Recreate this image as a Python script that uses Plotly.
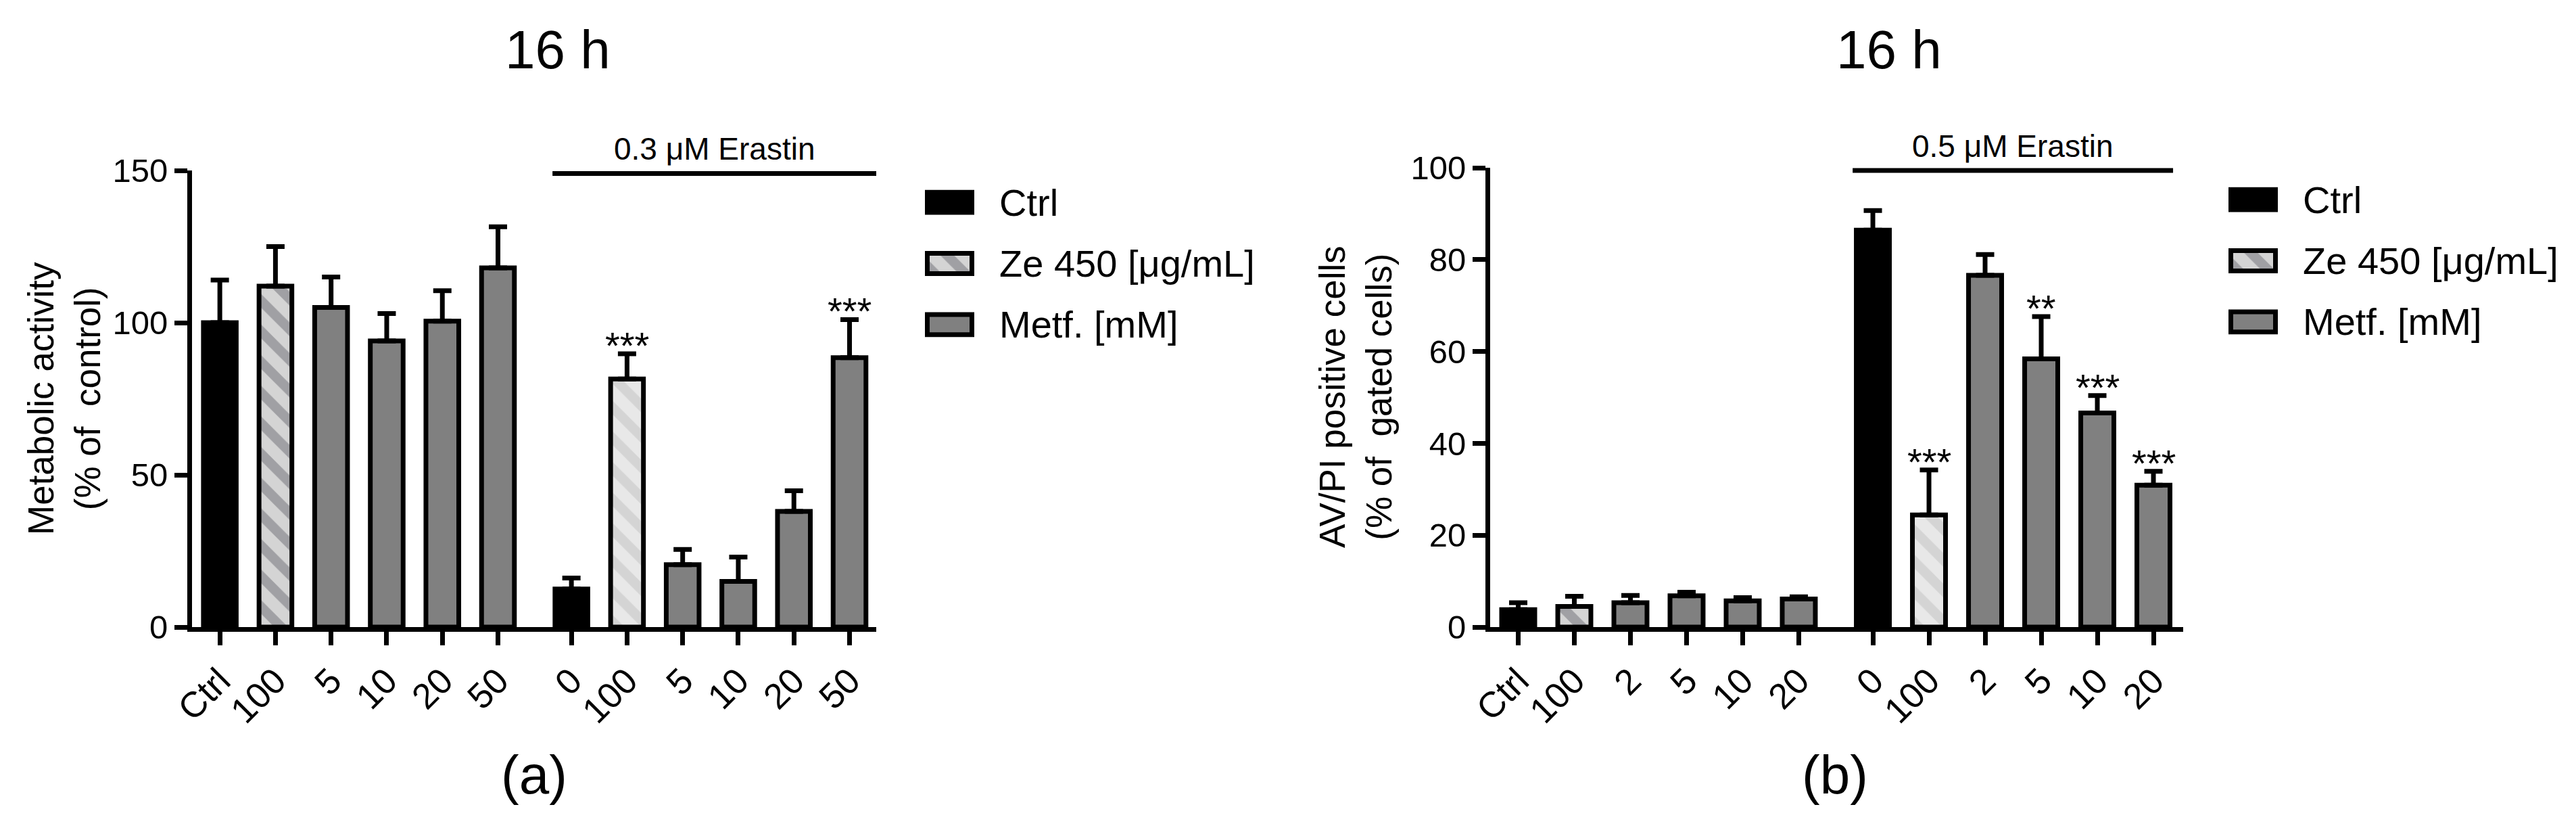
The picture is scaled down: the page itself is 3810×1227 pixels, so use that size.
import plotly.graph_objects as go

# ---------------- data ----------------
labels_a = ["Ctrl", "100", "5", "10", "20", "50", "0", "100", "5", "10", "20", "50"]
kind_a = ["Ctrl", "Ze", "Metf", "Metf", "Metf", "Metf", "Ctrl", "Ze", "Metf", "Metf", "Metf", "Metf"]
mean_a = [100, 112, 105, 94, 100.5, 118, 12.5, 81.5, 20.5, 15, 38, 88.5]
err_a = [14, 13, 10, 9, 10, 13.5, 3.6, 8.3, 5, 8, 6.8, 12.5]
stars_a = ["", "", "", "", "", "", "", "***", "", "", "", "***"]

labels_b = ["Ctrl", "100", "2", "5", "10", "20", "0", "100", "2", "5", "10", "20"]
kind_b = ["Ctrl", "Ze", "Metf", "Metf", "Metf", "Metf", "Ctrl", "Ze", "Metf", "Metf", "Metf", "Metf"]
mean_b = [3.8, 4.5, 5.3, 6.8, 5.7, 6.1, 86.4, 24.4, 76.6, 58.4, 46.6, 30.9]
err_b = [1.5, 2.2, 1.6, 0.8, 0.7, 0.5, 4.3, 9.8, 4.5, 9.2, 3.8, 3.0]
stars_b = ["", "", "", "", "", "", "", "***", "", "**", "***", "***"]

erastin_flag = [False] * 6 + [True] * 6
legend_names = ["Ctrl", "Ze 450 [μg/mL]", "Metf. [mM]"]
legend_kinds = ["Ctrl", "Ze", "Metf"]

titles = ["16 h", "16 h"]
panel_tags = ["(a)", "(b)"]
ytitle_a = "Metabolic activity<br>(% of\u00a0\u00a0control)"
ytitle_b = "AV/PI positive cells<br>(% of\u00a0\u00a0gated cells)"
bracket_a = "0.3 μM Erastin"
bracket_b = "0.5 μM Erastin"

# ---------------- style ----------------
W, H = 3810, 1227
FONT = "Liberation Sans, Arial, sans-serif"
LW = 7
GAP = 0.32
BARW = 0.59
METF = "#808080"
ZE_FG = {False: "#a0a0a4", True: "#d4d4d4"}
ZE_BG = {False: "#d4d4d4", True: "#e8e8e8"}


def px_x(p):
    return p / W


def px_y(p):
    return (H - p) / H


def positions(n):
    return [i + (GAP if i >= n // 2 else 0) for i in range(n)]


fig = go.Figure()


def make_marker(kind, flag):
    if kind == "Ze":
        return dict(
            color=ZE_BG[flag],
            line=dict(color="black", width=LW),
            pattern=dict(shape="\\", fgcolor=ZE_FG[flag], bgcolor=ZE_BG[flag],
                         size=32, solidity=0.45, fillmode="replace", fgopacity=1),
        )
    return dict(color="black" if kind == "Ctrl" else METF,
                line=dict(color="black", width=LW))


def add_panel(labels, kinds, means, errs, stars, xa, ya):
    pos = positions(len(labels))
    for kind in ["Ctrl", "Ze", "Metf"]:
        for flag in [False, True]:
            idx = [i for i, k in enumerate(kinds) if k == kind and erastin_flag[i] == flag]
            xs = [pos[i] for i in idx]
            ys = [means[i] for i in idx]
            es = [errs[i] for i in idx]
            fig.add_trace(go.Bar(
                x=xs, y=ys, width=BARW, marker=make_marker(kind, flag), xaxis=xa, yaxis=ya,
                showlegend=False,
                error_y=dict(type="data", array=es, arrayminus=[0] * len(es),
                             symmetric=False, color="black", thickness=LW, width=13.5),
            ))
    for i, s in enumerate(stars):
        if s:
            fig.add_annotation(x=pos[i], y=means[i] + errs[i], xref=xa, yref=ya,
                               text=s, showarrow=False, xanchor="center", yanchor="bottom",
                               yshift=-21, font=dict(size=56, color="black", family=FONT))
    return pos


pos_a = add_panel(labels_a, kind_a, mean_a, err_a, stars_a, "x", "y")
pos_b = add_panel(labels_b, kind_b, mean_b, err_b, stars_b, "x2", "y2")


# legend swatches (one small subplot per panel)
def add_legend(xa, ya):
    for name, kind in zip(legend_names, legend_kinds):
        fig.add_trace(go.Bar(y=[name], x=[1], orientation="h", width=0.33,
                             marker=make_marker(kind, False),
                             xaxis=xa, yaxis=ya, showlegend=False, hoverinfo="skip"))


add_legend("x3", "y3")
add_legend("x4", "y4")

axis_common = dict(showline=True, linewidth=LW, linecolor="black", showgrid=False,
                   zeroline=False, ticks="outside", tickwidth=LW, tickcolor="black",
                   automargin=False)

ybot = px_y(927)
fig.update_layout(
    width=W, height=H, paper_bgcolor="white", plot_bgcolor="white",
    margin=dict(l=0, r=0, t=0, b=0, autoexpand=False), barmode="overlay", showlegend=False,
    font=dict(family=FONT, color="black"),
    xaxis=dict(domain=[px_x(284), px_x(1296)], range=[-0.5, 11.8], tickvals=pos_a,
               ticktext=labels_a, tickangle=-45, ticklen=20, anchor="y",
               tickfont=dict(size=53), **axis_common),
    yaxis=dict(domain=[ybot, px_y(252)], range=[0, 150], tickvals=[0, 50, 100, 150],
               ticklen=19, anchor="x", tickfont=dict(size=49), **axis_common),
    xaxis2=dict(domain=[px_x(2204), px_x(3229)], range=[-0.5, 11.85], tickvals=pos_b,
                ticktext=labels_b, tickangle=-45, ticklen=20, anchor="y2",
                tickfont=dict(size=53), **axis_common),
    yaxis2=dict(domain=[ybot, px_y(248)], range=[0, 100], tickvals=[0, 20, 40, 60, 80, 100],
                ticklen=19, anchor="x2", tickfont=dict(size=49), **axis_common),
    xaxis3=dict(domain=[px_x(1368), px_x(1441)], range=[-0.053, 1.053], visible=False,
                anchor="y3", automargin=False),
    yaxis3=dict(domain=[px_y(525), px_y(254)], autorange="reversed", anchor="x3",
                side="right", showline=False, showgrid=False, zeroline=False, ticks="",
                ticklabelstandoff=36, tickfont=dict(size=56), automargin=False),
    xaxis4=dict(domain=[px_x(3296), px_x(3369)], range=[-0.053, 1.053], visible=False,
                anchor="y4", automargin=False),
    yaxis4=dict(domain=[px_y(521), px_y(250)], autorange="reversed", anchor="x4",
                side="right", showline=False, showgrid=False, zeroline=False, ticks="",
                ticklabelstandoff=36, tickfont=dict(size=56), automargin=False),
)

# Erastin brackets
for xa, ya, pos, yv, x0o, x1o, txt in [("x", "y", pos_a, 149, -0.34, 0.48, bracket_a),
                                         ("x2", "y2", pos_b, 99.4, -0.36, 0.35, bracket_b)]:
    x0 = pos[6] + x0o
    x1 = pos[11] + x1o
    fig.add_shape(type="line", x0=x0, x1=x1, y0=yv, y1=yv, xref=xa, yref=ya,
                  line=dict(color="black", width=LW))
    fig.add_annotation(x=(x0 + x1) / 2, y=yv, xref=xa, yref=ya, text=txt, showarrow=False,
                       xanchor="center", yanchor="bottom", yshift=8,
                       font=dict(size=46, family=FONT))

# panel titles, tags and y-axis titles
for xc, t in zip([825, 2794], titles):
    fig.add_annotation(x=px_x(xc), y=px_y(73), xref="paper", yref="paper", text=t,
                       showarrow=False, xanchor="center", yanchor="middle",
                       font=dict(size=80, family=FONT))
for xc, t in zip([790, 2714], panel_tags):
    fig.add_annotation(x=px_x(xc), y=px_y(1145), xref="paper", yref="paper", text=t,
                       showarrow=False, xanchor="center", yanchor="middle",
                       font=dict(size=80, family=FONT))
for xc, yc, t in [(95, 589, ytitle_a), (2005, 587, ytitle_b)]:
    fig.add_annotation(x=px_x(xc), y=px_y(yc), xref="paper", yref="paper", text=t,
                       textangle=-90, showarrow=False, xanchor="center", yanchor="middle",
                       font=dict(size=53, family=FONT))

fig.write_html("out.html", config={"displayModeBar": False},
               post_script="document.body.style.margin='0px';document.body.style.overflow='hidden';")
